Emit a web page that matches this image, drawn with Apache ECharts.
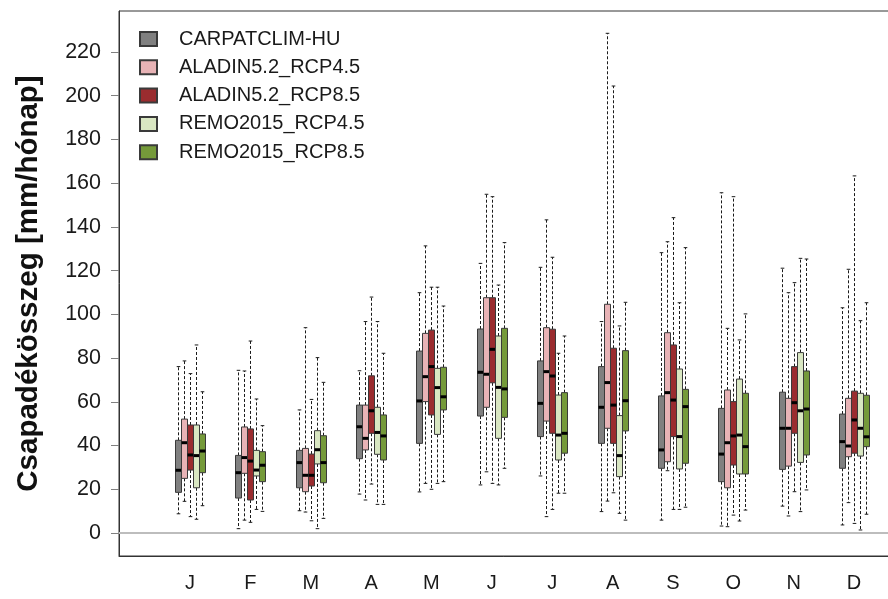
<!DOCTYPE html>
<html>
<head>
<meta charset="utf-8">
<script src="https://cdn.jsdelivr.net/npm/echarts@6/dist/echarts.min.js"></script>
<style>
  html, body { margin: 0; padding: 0; background: #ffffff; }
  #chart { width: 888px; height: 599px; }
</style>
</head>
<body>
<div id="chart"></div>
<script>
// Monthly precipitation sums: box statistics per month, [low, q1, median, q3, high]
const months = ['J', 'F', 'M', 'A', 'M', 'J', 'J', 'A', 'S', 'O', 'N', 'D'];
const yTicks = [0, 20, 40, 60, 80, 100, 120, 140, 160, 180, 200, 220];

const carpatclimHU = [
  [8.8, 18.6, 28.7, 42.4, 76.1],
  [2.0, 16.0, 27.6, 35.5, 74.4],
  [10.2, 20.7, 32.2, 37.8, 56.3],
  [17.8, 34.0, 48.6, 58.5, 74.2],
  [18.8, 41.0, 60.4, 83.2, 109.9],
  [22.0, 53.5, 73.5, 93.3, 123.3],
  [26.1, 44.1, 59.3, 78.7, 121.5],
  [9.8, 41.0, 57.5, 76.1, 96.7],
  [5.9, 29.6, 38.0, 62.7, 128.2],
  [3.2, 23.5, 36.1, 57.0, 155.6],
  [12.3, 29.1, 47.9, 64.4, 121.1],
  [3.7, 29.6, 41.8, 54.4, 103.0]
];
const aladinRCP45 = [
  [14.5, 25.0, 41.3, 52.1, 78.7],
  [5.9, 27.3, 34.5, 48.5, 74.1],
  [9.6, 18.9, 26.4, 38.7, 93.9],
  [15.1, 38.0, 43.3, 58.5, 96.7],
  [22.7, 60.1, 71.5, 91.3, 131.3],
  [28.0, 57.5, 72.6, 107.6, 154.9],
  [7.5, 51.2, 73.8, 93.9, 143.2],
  [14.6, 47.9, 68.8, 104.6, 228.5],
  [28.5, 32.6, 64.2, 91.6, 133.2],
  [2.9, 20.7, 41.3, 65.4, 93.6],
  [7.8, 30.6, 47.9, 61.6, 109.9],
  [13.9, 34.9, 39.8, 61.6, 120.6]
];
const aladinRCP85 = [
  [7.5, 28.8, 35.7, 49.4, 72.9],
  [4.9, 15.1, 32.9, 47.6, 87.8],
  [5.6, 21.5, 26.4, 36.1, 61.1],
  [22.4, 45.6, 55.9, 71.9, 107.9],
  [20.0, 54.0, 76.1, 92.8, 112.4],
  [22.7, 68.7, 84.0, 107.6, 153.8],
  [10.8, 45.6, 71.8, 93.2, 126.1],
  [18.4, 41.0, 58.5, 84.5, 204.4],
  [10.8, 44.1, 60.8, 86.0, 144.2],
  [8.2, 31.1, 44.4, 60.1, 153.8],
  [18.9, 45.6, 59.6, 76.1, 114.5],
  [4.4, 36.5, 51.7, 64.9, 163.3]
];
const remoRCP45 = [
  [6.3, 20.7, 35.4, 49.4, 86.0],
  [10.8, 26.1, 28.8, 37.8, 61.3],
  [2.0, 31.6, 38.1, 46.8, 80.2],
  [13.1, 36.0, 46.0, 57.5, 96.7],
  [22.7, 45.1, 66.5, 75.3, 112.4],
  [22.0, 43.3, 66.6, 90.1, 113.4],
  [18.2, 33.4, 44.8, 63.1, 82.2],
  [9.0, 25.8, 35.4, 53.7, 94.7],
  [10.8, 29.3, 44.1, 75.0, 105.3],
  [5.5, 27.0, 44.8, 70.4, 88.3],
  [9.8, 32.3, 55.9, 82.5, 125.6],
  [1.4, 35.2, 47.9, 63.9, 97.1]
];
const remoRCP85 = [
  [12.5, 27.6, 37.5, 45.3, 64.6],
  [9.9, 23.5, 31.0, 37.2, 49.1],
  [6.7, 23.0, 32.2, 44.5, 68.9],
  [13.1, 33.4, 44.4, 54.0, 82.2],
  [23.5, 56.3, 62.3, 75.8, 103.8],
  [29.6, 52.9, 65.9, 93.6, 132.8],
  [18.2, 36.5, 45.6, 64.2, 90.1],
  [5.9, 46.7, 60.5, 83.4, 105.5],
  [11.8, 31.9, 57.8, 65.7, 130.5],
  [10.5, 27.0, 39.5, 63.9, 100.2],
  [19.7, 35.7, 56.7, 74.1, 125.3],
  [8.6, 39.5, 44.0, 63.0, 105.3]
];

const seriesNames = ['CARPATCLIM-HU', 'ALADIN5.2_RCP4.5', 'ALADIN5.2_RCP8.5', 'REMO2015_RCP4.5', 'REMO2015_RCP8.5'];
const seriesData = [carpatclimHU, aladinRCP45, aladinRCP85, remoRCP45, remoRCP85];
const seriesColors = ['#808080', '#e8b3b6', '#9a2c2f', '#d9e7c2', '#759a3a'];

const FONT = 'Liberation Sans';
const BOX_W = 6;      // box width in px
const BOX_STEP = 6;   // distance between neighbouring boxes in a month group
const CAP = 1.8;      // half width of whisker caps

function makeRenderer(slot, color) {
  return function (params, api) {
    const m = api.value(0);
    const cx = Math.round(api.coord([m, 0])[0] + (slot - 2) * BOX_STEP) + 0.5;
    const y = (v) => api.coord([m, v])[1];
    const yLo = y(api.value(1));
    const yQ1 = y(api.value(2));
    const yMed = y(api.value(3));
    const yQ3 = y(api.value(4));
    const yHi = y(api.value(5));
    const half = BOX_W / 2;
    const dashed = { stroke: '#1a1a1a', lineWidth: 1, lineDash: [3, 2] };
    const solid = { stroke: '#1a1a1a', lineWidth: 1 };
    return {
      type: 'group',
      children: [
        { type: 'line', shape: { x1: cx, y1: yQ3, x2: cx, y2: yHi }, style: dashed },
        { type: 'line', shape: { x1: cx, y1: yQ1, x2: cx, y2: yLo }, style: dashed },
        { type: 'line', shape: { x1: cx - CAP, y1: yHi, x2: cx + CAP, y2: yHi }, style: solid },
        { type: 'line', shape: { x1: cx - CAP, y1: yLo, x2: cx + CAP, y2: yLo }, style: solid },
        {
          type: 'rect',
          shape: { x: cx - half, y: yQ3, width: BOX_W, height: yQ1 - yQ3 },
          style: { fill: color, stroke: '#3a3a3a', lineWidth: 1 }
        },
        {
          type: 'line',
          shape: { x1: cx - half, y1: yMed, x2: cx + half, y2: yMed },
          style: { stroke: '#000000', lineWidth: 3 }
        }
      ]
    };
  };
}

const series = seriesNames.map((name, k) => {
  const s = {
    name: name,
    type: 'custom',
    renderItem: makeRenderer(k, seriesColors[k]),
    itemStyle: { color: seriesColors[k], borderColor: '#3a3a3a', borderWidth: 1 },
    encode: { x: 0, y: [1, 2, 3, 4, 5] },
    data: seriesData[k].map((row, i) => [i + 1].concat(row)),
    z: 3
  };
  if (k === 0) {
    s.markLine = {
      silent: true,
      symbol: ['none', 'none'],
      label: { show: false },
      lineStyle: { color: '#bdbdbd', width: 2, type: 'solid' },
      data: [{ yAxis: 0 }],
      z: 1
    };
  }
  return s;
});

const chart = echarts.init(document.getElementById('chart'), null, { renderer: 'canvas' });
chart.setOption({
  backgroundColor: '#ffffff',
  animation: false,
  textStyle: { fontFamily: FONT },
  grid: {
    left: 119, top: 11, width: 806, height: 545,
    outerBoundsMode: 'none',
    containLabel: false,
    show: true, borderColor: '#333333', borderWidth: 1
  },
  legend: {
    orient: 'vertical',
    left: 139,
    top: 29,
    padding: 0,
    itemWidth: 17,
    itemHeight: 14,
    itemGap: 8.3,
    icon: 'rect',
    data: seriesNames,
    textStyle: { fontFamily: FONT, fontSize: 20, color: '#1a1a1a', padding: [0, 0, 0, 17] }
  },
  xAxis: {
    type: 'value',
    min: -0.1762,
    max: 13.1762,
    axisLine: { show: true, onZero: false, lineStyle: { color: '#333333' } },
    axisTick: { show: false },
    splitLine: { show: false },
    axisLabel: {
      customValues: months.map((_, i) => i + 1),
      formatter: (v) => months[Math.round(v) - 1],
      fontFamily: FONT,
      fontSize: 20,
      color: '#1a1a1a',
      margin: 17
    }
  },
  yAxis: {
    type: 'value',
    min: -10.5,
    max: 238.7,
    name: 'Csapadékösszeg [mm/hónap]',
    nameLocation: 'middle',
    nameGap: 75,
    nameTextStyle: { fontFamily: FONT, fontSize: 29.5, fontWeight: 'bold', color: '#111111' },
    axisLine: { show: true, onZero: false, lineStyle: { color: '#333333' } },
    axisTick: { show: true, customValues: yTicks, length: 8, lineStyle: { color: '#808080' } },
    splitLine: { show: false },
    axisLabel: {
      customValues: yTicks,
      fontFamily: FONT,
      fontSize: 21.5,
      color: '#1a1a1a',
      margin: 18
    }
  },
  series: series
});
</script>
</body>
</html>
